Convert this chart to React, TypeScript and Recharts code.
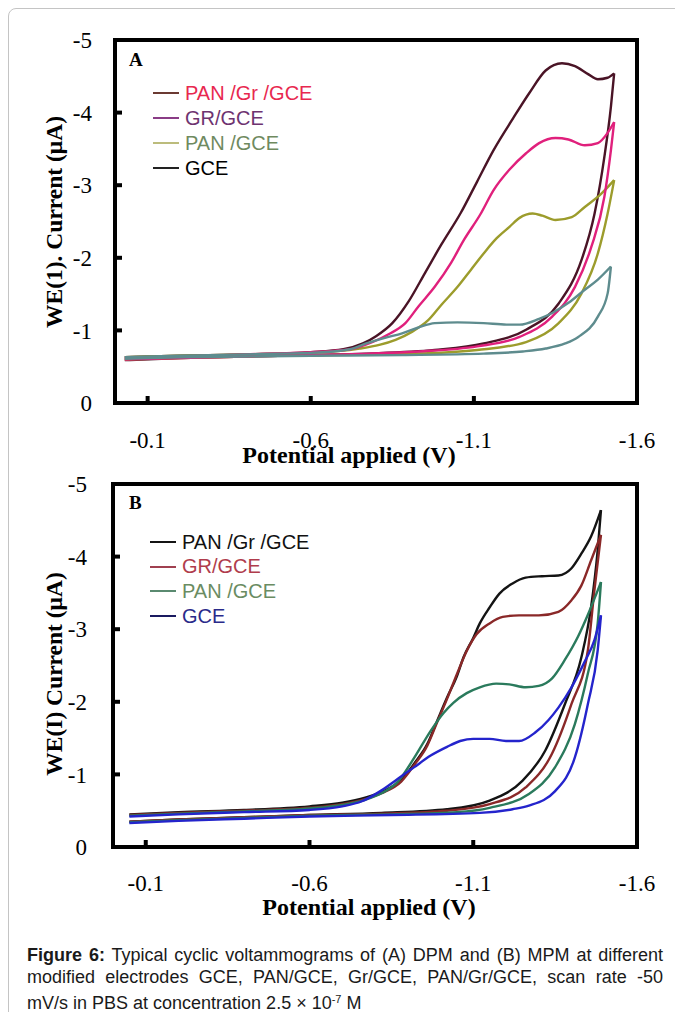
import { LineChart, Line, XAxis, YAxis, ReferenceArea } from 'recharts';

type Pt = [number, number];

const SERIF = '"Liberation Serif", "Times New Roman", serif';
const SANS = '"Liberation Sans", Arial, sans-serif';

const X_TICKS = [-0.1, -0.6, -1.1, -1.6];
const Y_TICKS = [-5, -4, -3, -2, -1, 0];

const NAMES = ['PAN /Gr /GCE', 'GR/GCE', 'PAN /GCE', 'GCE'];

// ---- panel A (DPM) : [potential V, current µA], forward scan and return scan
const A_PANGR_FWD: Pt[] = [
    [-0.03, -0.63], [-0.2, -0.65], [-0.4, -0.67], [-0.6, -0.7], [-0.7, -0.74], [-0.76, -0.82],
    [-0.8, -0.92], [-0.85, -1.1], [-0.9, -1.4], [-0.95, -1.79], [-1.0, -2.18], [-1.06, -2.62],
    [-1.11, -3.05], [-1.16, -3.48], [-1.22, -3.92], [-1.27, -4.27], [-1.32, -4.58], [-1.37, -4.68],
    [-1.41, -4.64], [-1.45, -4.53], [-1.48, -4.46], [-1.51, -4.48], [-1.53, -4.54],
];
const A_PANGR_REV: Pt[] = [
    [-0.03, -0.59], [-0.2, -0.62], [-0.4, -0.64], [-0.6, -0.66], [-0.77, -0.68], [-0.98, -0.73],
    [-1.13, -0.82], [-1.26, -1.01], [-1.36, -1.37], [-1.43, -1.97], [-1.47, -2.61], [-1.5, -3.39],
    [-1.52, -4.08], [-1.53, -4.54],
];
const A_GR_FWD: Pt[] = [
    [-0.03, -0.62], [-0.2, -0.64], [-0.4, -0.67], [-0.6, -0.7], [-0.72, -0.74], [-0.79, -0.84],
    [-0.84, -0.95], [-0.89, -1.1], [-0.93, -1.33], [-0.98, -1.6], [-1.03, -1.93], [-1.07, -2.25],
    [-1.12, -2.6], [-1.16, -2.93], [-1.21, -3.22], [-1.26, -3.44], [-1.3, -3.58], [-1.35, -3.65],
    [-1.39, -3.63], [-1.44, -3.55], [-1.48, -3.58], [-1.51, -3.72], [-1.53, -3.87],
];
const A_GR_REV: Pt[] = [
    [-0.03, -0.6], [-0.2, -0.62], [-0.4, -0.64], [-0.6, -0.66], [-0.78, -0.68], [-0.93, -0.71],
    [-1.11, -0.78], [-1.24, -0.91], [-1.34, -1.19], [-1.41, -1.6], [-1.46, -2.15], [-1.5, -2.84],
    [-1.52, -3.48], [-1.53, -3.87],
];
const A_PAN_FWD: Pt[] = [
    [-0.03, -0.63], [-0.2, -0.65], [-0.4, -0.67], [-0.6, -0.69], [-0.75, -0.75], [-0.81, -0.8],
    [-0.86, -0.87], [-0.91, -0.98], [-0.96, -1.14], [-1.0, -1.35], [-1.05, -1.6], [-1.09, -1.83],
    [-1.13, -2.06], [-1.17, -2.27], [-1.21, -2.43], [-1.24, -2.55], [-1.28, -2.61], [-1.31, -2.58],
    [-1.35, -2.52], [-1.4, -2.56], [-1.44, -2.7], [-1.49, -2.88], [-1.53, -3.07],
];
const A_PAN_REV: Pt[] = [
    [-0.03, -0.6], [-0.2, -0.62], [-0.4, -0.64], [-0.6, -0.66], [-0.8, -0.67], [-0.93, -0.68],
    [-1.11, -0.73], [-1.26, -0.84], [-1.36, -1.1], [-1.43, -1.51], [-1.48, -2.06], [-1.51, -2.61],
    [-1.53, -3.07],
];
const A_GCE_FWD: Pt[] = [
    [-0.03, -0.63], [-0.2, -0.65], [-0.4, -0.67], [-0.6, -0.69], [-0.72, -0.74], [-0.77, -0.82],
    [-0.83, -0.9], [-0.88, -0.96], [-0.93, -1.04], [-0.98, -1.1], [-1.05, -1.11], [-1.13, -1.1],
    [-1.2, -1.08], [-1.24, -1.08], [-1.3, -1.16], [-1.34, -1.24], [-1.39, -1.38], [-1.44, -1.56],
    [-1.48, -1.7], [-1.52, -1.88],
];
const A_GCE_REV: Pt[] = [
    [-0.03, -0.61], [-0.2, -0.63], [-0.4, -0.64], [-0.6, -0.65], [-0.88, -0.66], [-1.13, -0.68],
    [-1.25, -0.71], [-1.32, -0.75], [-1.38, -0.82], [-1.42, -0.91], [-1.48, -1.19], [-1.51, -1.51],
    [-1.52, -1.88],
];

// ---- panel B (MPM)
const B_PANGR_FWD: Pt[] = [
    [-0.05, -0.45], [-0.2, -0.48], [-0.4, -0.51], [-0.6, -0.56], [-0.7, -0.61], [-0.77, -0.68],
    [-0.82, -0.76], [-0.88, -0.92], [-0.92, -1.15], [-0.96, -1.42], [-0.99, -1.74], [-1.02, -2.06],
    [-1.05, -2.35], [-1.07, -2.61], [-1.1, -2.88], [-1.12, -3.08], [-1.15, -3.3], [-1.18, -3.49],
    [-1.22, -3.63], [-1.26, -3.71], [-1.31, -3.73], [-1.36, -3.74], [-1.4, -3.84], [-1.43, -4.04],
    [-1.46, -4.28], [-1.49, -4.64],
];
const B_PANGR_REV: Pt[] = [
    [-0.05, -0.35], [-0.2, -0.38], [-0.4, -0.41], [-0.6, -0.44], [-0.82, -0.47], [-1.02, -0.52],
    [-1.15, -0.64], [-1.25, -0.91], [-1.32, -1.33], [-1.38, -1.97], [-1.43, -2.61], [-1.46, -3.31],
    [-1.48, -4.09], [-1.49, -4.64],
];
const B_GR_FWD: Pt[] = [
    [-0.05, -0.44], [-0.2, -0.47], [-0.4, -0.5], [-0.6, -0.54], [-0.7, -0.59], [-0.77, -0.66],
    [-0.82, -0.74], [-0.88, -0.9], [-0.92, -1.13], [-0.96, -1.4], [-0.99, -1.72], [-1.02, -2.04],
    [-1.05, -2.38], [-1.08, -2.7], [-1.11, -2.93], [-1.15, -3.08], [-1.19, -3.17], [-1.24, -3.19],
    [-1.3, -3.19], [-1.36, -3.24], [-1.4, -3.4], [-1.43, -3.6], [-1.46, -3.95], [-1.49, -4.3],
];
const B_GR_REV: Pt[] = [
    [-0.05, -0.35], [-0.2, -0.38], [-0.4, -0.41], [-0.6, -0.44], [-0.82, -0.46], [-1.02, -0.5],
    [-1.15, -0.59], [-1.26, -0.82], [-1.34, -1.28], [-1.4, -1.97], [-1.45, -2.71], [-1.47, -3.54],
    [-1.49, -4.3],
];
const B_PAN_FWD: Pt[] = [
    [-0.05, -0.43], [-0.2, -0.46], [-0.4, -0.49], [-0.6, -0.53], [-0.7, -0.58], [-0.77, -0.65],
    [-0.82, -0.74], [-0.87, -0.9], [-0.92, -1.23], [-0.97, -1.6], [-1.01, -1.85], [-1.04, -1.99],
    [-1.08, -2.12], [-1.12, -2.2], [-1.17, -2.25], [-1.21, -2.24], [-1.26, -2.2], [-1.3, -2.22],
    [-1.34, -2.32], [-1.38, -2.58], [-1.42, -2.9], [-1.45, -3.2], [-1.49, -3.65],
];
const B_PAN_REV: Pt[] = [
    [-0.05, -0.34], [-0.2, -0.37], [-0.4, -0.4], [-0.6, -0.43], [-0.85, -0.45], [-1.05, -0.48],
    [-1.15, -0.54], [-1.27, -0.73], [-1.35, -1.1], [-1.41, -1.69], [-1.45, -2.39], [-1.48, -3.08],
    [-1.49, -3.65],
];
const B_GCE_FWD: Pt[] = [
    [-0.05, -0.42], [-0.2, -0.45], [-0.4, -0.48], [-0.6, -0.51], [-0.7, -0.56], [-0.76, -0.63],
    [-0.82, -0.78], [-0.87, -0.94], [-0.92, -1.1], [-0.97, -1.26], [-1.02, -1.38], [-1.06, -1.46],
    [-1.1, -1.49], [-1.15, -1.49], [-1.2, -1.46], [-1.24, -1.46], [-1.29, -1.58], [-1.33, -1.75],
    [-1.36, -1.92], [-1.4, -2.2], [-1.44, -2.55], [-1.47, -2.85], [-1.49, -3.19],
];
const B_GCE_REV: Pt[] = [
    [-0.05, -0.33], [-0.2, -0.36], [-0.4, -0.39], [-0.6, -0.42], [-0.85, -0.44], [-1.12, -0.47],
    [-1.22, -0.52], [-1.27, -0.57], [-1.35, -0.77], [-1.41, -1.23], [-1.45, -1.97], [-1.48, -2.71],
    [-1.49, -3.19],
];

const A_CURVE_COLORS = ['#4a1426', '#e0207c', '#9c9c2c', '#5e8c8e'];
const A_KEY_COLORS = ['#6b3a32', '#8a3c86', '#bcbc7c', '#222222'];
const A_TEXT_COLORS = ['#e8284f', '#6e3370', '#6f8a5f', '#000000'];
const B_CURVE_COLORS = ['#141414', '#8a2828', '#2a7a5c', '#2424cc'];
const B_KEY_COLORS = ['#141414', '#a04050', '#5a8a70', '#1a1a60'];
const B_TEXT_COLORS = ['#111111', '#b03c4c', '#6a8c62', '#2a2a8a'];

const A_SERIES = [
    { fwd: A_PANGR_FWD, rev: A_PANGR_REV },
    { fwd: A_GR_FWD, rev: A_GR_REV },
    { fwd: A_PAN_FWD, rev: A_PAN_REV },
    { fwd: A_GCE_FWD, rev: A_GCE_REV },
];
const B_SERIES = [
    { fwd: B_PANGR_FWD, rev: B_PANGR_REV },
    { fwd: B_GR_FWD, rev: B_GR_REV },
    { fwd: B_PAN_FWD, rev: B_PAN_REV },
    { fwd: B_GCE_FWD, rev: B_GCE_REV },
];

const toRows = (pts: Pt[]) => pts.map(([v, i]) => ({ v, i }));

// axis titles sit at fixed spots, like in the figure (not centred on the plot)
function YTitle({ titleText, titleCy }: { titleText: string; titleCy: number }) {
    return (
        <text x={54} y={titleCy} transform={`rotate(-90 54 ${titleCy})`} textAnchor="middle" dominantBaseline="central"
            fontFamily={SERIF} fontWeight="bold" fontSize={23.5} fill="#000">
            {titleText}
        </text>
    );
}

function XTitle({ titleCx, titleBase }: { titleCx: number; titleBase: number }) {
    return (
        <text x={titleCx} y={titleBase} textAnchor="middle" fontFamily={SERIF} fontWeight="bold" fontSize={24} fill="#000">
            Potential applied (V)
        </text>
    );
}

function CvPanel({
    series, colors, order, plotLeft, yTickMargin, xTickMargin, yTitle, yTitleCy, xTitleCx, xTitleY,
}: {
    series: { fwd: Pt[]; rev: Pt[] }[];
    colors: string[];
    order: number[];
    plotLeft: number;
    yTickMargin: number;
    xTickMargin: number;
    yTitle: string;
    yTitleCy: number;
    xTitleCx: number;
    xTitleY: number;
}) {
    const tickStyle = { fill: '#000', fontSize: 23, fontFamily: SERIF };
    return (
        <LineChart width={675} height={480} margin={{ top: 40, right: 38, bottom: 17, left: plotLeft - 60 }}>
            <XAxis dataKey="v" type="number" domain={[-1.6, 0]} reversed ticks={X_TICKS} interval={0} allowDataOverflow
                tickFormatter={(v: number) => v.toFixed(1)} axisLine={false}
                tickLine={{ stroke: '#000', strokeWidth: 4 }} tickSize={-7} tickMargin={xTickMargin}
                tick={tickStyle} height={60} label={<XTitle titleCx={xTitleCx} titleBase={xTitleY} />} />
            <YAxis type="number" domain={[-5, 0]} reversed ticks={Y_TICKS} interval={0} allowDataOverflow width={60}
                axisLine={false} tickLine={{ stroke: '#000', strokeWidth: 4 }} tickSize={-7} tickMargin={yTickMargin}
                tick={tickStyle} label={<YTitle titleText={yTitle} titleCy={yTitleCy} />} />
            {order.flatMap((k) => [
                <Line key={`f${k}`} data={toRows(series[k].fwd)} dataKey="i" type="monotone" stroke={colors[k]}
                    strokeWidth={2.4} dot={false} activeDot={false} isAnimationActive={false} />,
                <Line key={`r${k}`} data={toRows(series[k].rev)} dataKey="i" type="monotone" stroke={colors[k]}
                    strokeWidth={2.4} dot={false} activeDot={false} isAnimationActive={false} />,
            ])}
            <ReferenceArea x1={-1.6} x2={0} y1={-5} y2={0} fill="none" fillOpacity={0} stroke="#000" strokeWidth={4} />
        </LineChart>
    );
}

function KeyBox({ top, lineLeft, textLeft, step, keyColors, textColors }: {
    top: number; lineLeft: number; textLeft: number; step: number; keyColors: string[]; textColors: string[];
}) {
    return (
        <>
            {NAMES.map((name, k) => (
                <div key={name} style={{ position: 'absolute', left: lineLeft, top: top + k * step - 12, height: 24, display: 'flex', alignItems: 'center' }}>
                    <span style={{ display: 'inline-block', width: textLeft - lineLeft - 6, height: 2, background: keyColors[k] }} />
                    <span style={{ marginLeft: 6, fontFamily: SANS, fontSize: 20, color: textColors[k], whiteSpace: 'nowrap' }}>{name}</span>
                </div>
            ))}
        </>
    );
}

export default function App() {
    const letter = { position: 'absolute' as const, fontFamily: SERIF, fontWeight: 'bold' as const, fontSize: 19, lineHeight: '20px' };
    const capLine = { position: 'absolute' as const, left: 27, width: 636, fontFamily: SANS, fontSize: 18, lineHeight: '22px', color: '#1a1a1a' };
    return (
        <div style={{ position: 'absolute', left: 0, top: 0, width: 675, height: 1012, overflow: 'hidden', background: '#fff' }}>
            <div style={{ position: 'absolute', left: 8, top: 8, width: 720, height: 1100, border: '1px solid #c4c4c4', borderRadius: 8 }} />
            <div style={{ position: 'absolute', left: 0, top: 0 }}>
                <CvPanel series={A_SERIES} colors={A_CURVE_COLORS} order={[0, 2, 1, 3]} plotLeft={115}
                    yTickMargin={30} xTickMargin={36} yTitle="WE(1). Current (μA)" yTitleCy={222} xTitleCx={349} xTitleY={463} />
            </div>
            <div style={{ position: 'absolute', left: 0, top: 444 }}>
                <CvPanel series={B_SERIES} colors={B_CURVE_COLORS} order={[0, 1, 2, 3]} plotLeft={113}
                    yTickMargin={33} xTickMargin={35} yTitle="WE(I) Current (μA)" yTitleCy={230} xTitleCx={369} xTitleY={471} />
            </div>
            <div style={{ ...letter, left: 129, top: 50 }}>A</div>
            <div style={{ ...letter, left: 129, top: 493 }}>B</div>
            <KeyBox top={93} lineLeft={153} textLeft={185} step={25} keyColors={A_KEY_COLORS} textColors={A_TEXT_COLORS} />
            <KeyBox top={542} lineLeft={150} textLeft={182} step={24.7} keyColors={B_KEY_COLORS} textColors={B_TEXT_COLORS} />
            <div style={{ ...capLine, top: 944, textAlign: 'justify', textAlignLast: 'justify' }}>
                <b>Figure 6:</b> Typical cyclic voltammograms of (A) DPM and (B) MPM at different
            </div>
            <div style={{ ...capLine, top: 966, textAlign: 'justify', textAlignLast: 'justify' }}>
                modified electrodes GCE, PAN/GCE, Gr/GCE, PAN/Gr/GCE, scan rate -50
            </div>
            <div style={{ ...capLine, top: 988 }}>
                mV/s in PBS at concentration 2.5 × 10<span style={{ fontSize: 11, verticalAlign: 6 }}>-7</span> M
            </div>
        </div>
    );
}
